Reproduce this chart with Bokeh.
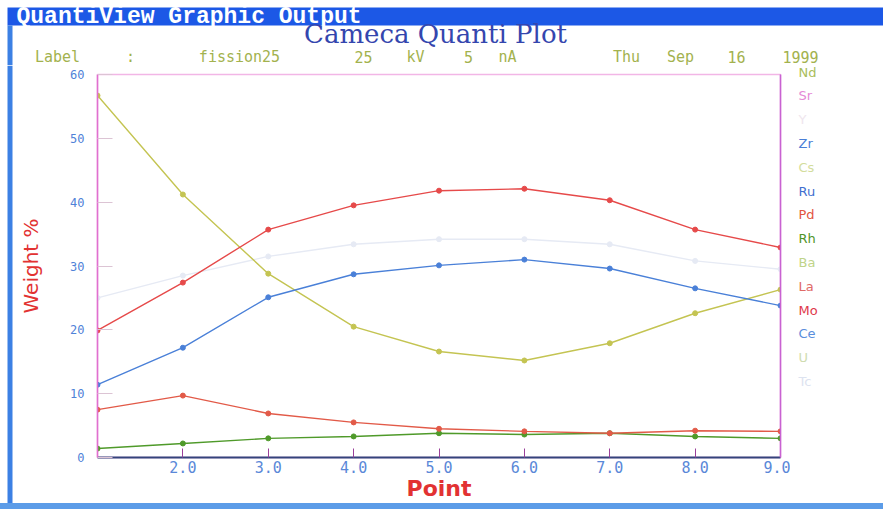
from bokeh.plotting import figure
from bokeh.models import Range1d, FixedTicker, LinearAxis, Label
from bokeh.layouts import column, row
from bokeh.embed import file_html
from bokeh.resources import INLINE

# ---------------- data ----------------
points = [1, 2, 3, 4, 5, 6, 7, 8, 9]
x_tick_labels = ["", "2.0", "3.0", "4.0", "5.0", "6.0", "7.0", "8.0", "9.0"]
y_ticks = [0, 10, 20, 30, 40, 50, 60]

elements = ["Nd", "Sr", "Y", "Zr", "Cs", "Ru", "Pd", "Rh", "Ba", "La", "Mo", "Ce", "U", "Tc"]
element_colors = ["#a9bd5c", "#e58ad6", "#efe6ee", "#4a7ed6", "#d3dd9c", "#3f6fcf",
                  "#e2553f", "#4f9428", "#bfd48a", "#e06a66", "#e0384a", "#5a8edc",
                  "#cfdcb0", "#dde3f0"]

mo = [19.9, 27.4, 35.7, 39.5, 41.8, 42.1, 40.3, 35.7, 32.9]
ru = [11.4, 17.2, 25.1, 28.7, 30.1, 31.0, 29.6, 26.5, 23.8]
u = [56.7, 41.2, 28.8, 20.5, 16.6, 15.2, 17.9, 22.6, 26.3]
tc = [25.0, 28.5, 31.5, 33.4, 34.2, 34.2, 33.4, 30.8, 29.5]
pd_ = [7.5, 9.7, 6.9, 5.5, 4.5, 4.1, 3.8, 4.2, 4.1]
rh = [1.4, 2.2, 3.0, 3.3, 3.8, 3.6, 3.8, 3.3, 3.0]

series = [("Tc", tc, "#e6eaf4"), ("U", u, "#c4c452"), ("Ru", ru, "#4a80d8"),
          ("Mo", mo, "#e64a4a"), ("Rh", rh, "#4f9a2a"), ("Pd", pd_, "#e25a48")]

window_title = "QuantiView Graphic Output"
plot_title = "Cameca Quanti Plot"
sub_words = ["Label", ":", "fission25", "25", "kV", "5", "nA", "Thu", "Sep", "16", "1999"]

BAR = "#1c58e6"
EDGE = "#3c80e4"
EDGE2 = "#5c9ce8"

TOTAL_W, TOTAL_H = 883, 509
HEAD_H = 65
BOT_H = 6
MID_H = TOTAL_H - HEAD_H - BOT_H
LEFT_W = 13
LEG_W = 93
MAIN_W = TOTAL_W - LEFT_W - LEG_W


def no_align(f):
    try:
        f.frame_align = False
    except Exception:
        pass
    return f


def deco_fig(w, h):
    f = figure(width=w, height=h, x_range=Range1d(0, w), y_range=Range1d(h, 0),
               output_backend="svg", toolbar_location=None, title=None,
               x_axis_type=None, y_axis_type=None, min_border=0)
    f.outline_line_color = None
    f.background_fill_color = "white"
    f.border_fill_color = "white"
    f.grid.visible = False
    return no_align(f)


# ---------------- header ----------------
head = deco_fig(TOTAL_W, HEAD_H)
head.quad(left=[7], right=[TOTAL_W], top=[7], bottom=[25], fill_color=BAR, line_color=None)
head.quad(left=[7], right=[12], top=[25], bottom=[HEAD_H], fill_color=EDGE, line_color=None)
head.add_layout(Label(x=16, y=16, text=window_title, text_font="Liberation Mono",
                      text_font_style="bold", text_font_size="23px", text_color="white",
                      text_baseline="middle"))
head.add_layout(Label(x=435, y=33, text=plot_title, text_font="DejaVu Serif",
                      text_font_size="26px", text_color="#3446ae",
                      text_align="center", text_baseline="middle"))
sub_centers = [57, 130, 239, 363, 415, 468, 507, 626, 680, 736, 800]
for w_, cx in zip(sub_words, sub_centers):
    head.add_layout(Label(x=cx, y=56, text=w_, text_font="DejaVu Sans Mono",
                          text_font_size="15px", text_color="#a3b24e",
                          text_align="center", text_baseline="middle"))

# ---------------- left edge ----------------
left = deco_fig(LEFT_W, MID_H)
left.quad(left=[7], right=[12], top=[0], bottom=[MID_H], fill_color=EDGE, line_color=None)

# ---------------- legend ----------------
leg = deco_fig(LEG_W, MID_H)
x_leg = LEFT_W + MAIN_W
for i, (name, col) in enumerate(zip(elements, element_colors)):
    leg.add_layout(Label(x=798 - x_leg, y=71.5 + i * 23.8 - HEAD_H, text=name,
                         text_font="DejaVu Sans", text_font_size="13px",
                         text_color=col, text_baseline="middle"))

# ---------------- main plot ----------------
FL = 97 - LEFT_W
FR = LEFT_W + MAIN_W - 780
FT = 74 - HEAD_H
FB = HEAD_H + MID_H - 457

p = figure(width=MAIN_W, height=MID_H, x_range=Range1d(1, 9), y_range=Range1d(0, 60),
           output_backend="svg", toolbar_location=None, title=None,
           min_border_left=FL, min_border_right=FR, min_border_top=FT, min_border_bottom=FB)
no_align(p)
p.background_fill_color = "white"
p.border_fill_color = "white"
p.outline_line_color = "#f2b6e6"
p.outline_line_width = 1.5
p.xgrid.visible = False
p.ygrid.visible = False

for name, vals, col in series:
    p.line(points, vals, line_color=col, line_width=1.4)
    p.scatter(points, vals, size=5, marker="circle", fill_color=col, line_color=col)

xa = p.xaxis[0]
xa.ticker = FixedTicker(ticks=points)
xa.major_label_overrides = {pt: lab for pt, lab in zip(points, x_tick_labels)}
xa.axis_line_color = "#34447c"
xa.axis_line_width = 2
xa.major_tick_in = 9
xa.major_tick_out = 0
xa.major_tick_line_color = "#9a3f9a"
xa.minor_tick_line_color = None
xa.major_label_text_font = "DejaVu Sans Mono"
xa.major_label_text_font_size = "15px"
xa.major_label_text_color = "#5a88d8"
xa.major_label_standoff = 3
xa.axis_label = "Point"
xa.axis_label_text_font = "DejaVu Sans"
xa.axis_label_text_font_style = "bold"
xa.axis_label_text_font_size = "22px"
xa.axis_label_text_color = "#e23232"
xa.axis_label_standoff = 0

ya = p.yaxis[0]
ya.ticker = FixedTicker(ticks=y_ticks)
ya.axis_line_color = "#e070d0"
ya.axis_line_width = 1.5
ya.major_tick_in = 15
ya.major_tick_out = 0
ya.major_tick_line_color = "#dcc4d4"
ya.minor_tick_line_color = None
ya.major_label_text_font = "DejaVu Sans Mono"
ya.major_label_text_font_size = "12px"
ya.major_label_text_color = "#4f82d8"
ya.major_label_standoff = 13
ya.axis_label = "Weight %"
ya.axis_label_text_font = "DejaVu Sans"
ya.axis_label_text_font_style = "normal"
ya.axis_label_text_font_size = "20px"
ya.axis_label_text_color = "#e23232"
ya.axis_label_standoff = 24

ra = LinearAxis(ticker=FixedTicker(ticks=[]), axis_line_color="#c862d2", axis_line_width=1.5,
                major_tick_line_color=None, minor_tick_line_color=None)
p.add_layout(ra, "right")

layout = column(head, row(left, p, leg),
                styles={"border-bottom": f"{BOT_H}px solid {EDGE2}"})
open("out.html", "w").write(file_html(layout, INLINE))
